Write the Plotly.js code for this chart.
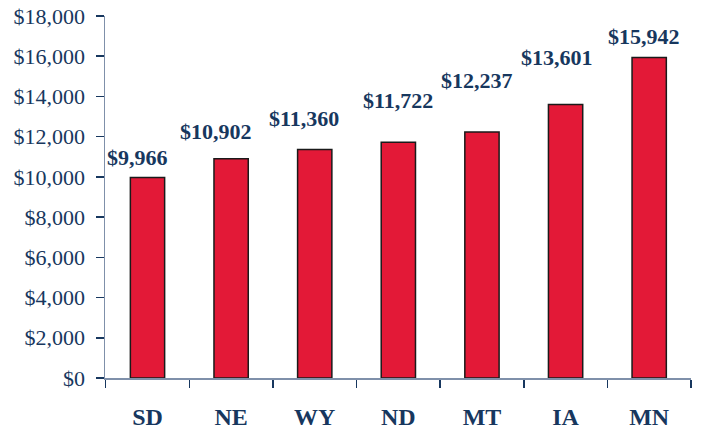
<!DOCTYPE html>
<html>
<head>
<meta charset="utf-8">
<script src="https://cdn.plot.ly/plotly-3.0.1.min.js"></script>
<style>html,body{margin:0;padding:0;background:#fff;}#chart{width:701px;height:434px;}</style>
</head>
<body>
<div id="chart"></div>
<script>
const states = ["SD", "NE", "WY", "ND", "MT", "IA", "MN"];
const values = [9966, 10902, 11360, 11722, 12237, 13601, 15942];
const yTickVals = [0, 2000, 4000, 6000, 8000, 10000, 12000, 14000, 16000, 18000];
const yTickText = ["$0", "$2,000", "$4,000", "$6,000", "$8,000", "$10,000", "$12,000", "$14,000", "$16,000", "$18,000"];

// label placement offsets (pixels) as in the original hand-placed labels
const labelXShift = [-10, -15, -11, 0, -4.5, -9, -5];
const labelYShift = [5.5, 12.5, 16.5, 27.5, 36.5, 32, 6.5];

const navy = "#17375E";
const serif = "Liberation Serif, Times New Roman, serif";
const fmt = v => "$" + v.toLocaleString("en-US");

const trace = {
  type: "bar",
  x: states,
  y: values,
  marker: { color: "#E31937", line: { color: "#1a1a1a", width: 1.5 } },
  hoverinfo: "skip"
};

const annotations = states.map((s, i) => ({
  x: s, y: values[i], xref: "x", yref: "y",
  text: fmt(values[i]), showarrow: false,
  yanchor: "bottom", yshift: labelYShift[i], xshift: labelXShift[i],
  font: { family: serif, size: 22, color: navy, weight: "bold" }
}));

const layout = {
  width: 701, height: 434,
  margin: { l: 105, r: 10, t: 16, b: 56 },
  paper_bgcolor: "#fff", plot_bgcolor: "#fff",
  showlegend: false,
  bargap: 0.59,
  font: { family: serif, color: navy },
  xaxis: {
    type: "category",
    showline: true, linecolor: "#7F90AA", linewidth: 1.5,
    ticks: "outside", tickson: "boundaries", ticklen: 8, tickcolor: navy, tickwidth: 1.5,
    showgrid: false, zeroline: false,
    ticklabelstandoff: 17,
    tickfont: { family: serif, size: 24, color: navy, weight: "bold" }
  },
  yaxis: {
    range: [0, 18000],
    tickvals: yTickVals, ticktext: yTickText,
    showline: true, linecolor: "#7F90AA", linewidth: 1.5,
    ticks: "outside", ticklen: 8, tickcolor: navy, tickwidth: 1.5,
    showgrid: false, zeroline: false,
    ticklabelstandoff: 6, ticklabelshift: -3.5,
    tickfont: { family: serif, size: 22, color: navy }
  },
  annotations: annotations
};

Plotly.newPlot("chart", [trace], layout, { displayModeBar: false, staticPlot: true });
</script>
</body>
</html>
